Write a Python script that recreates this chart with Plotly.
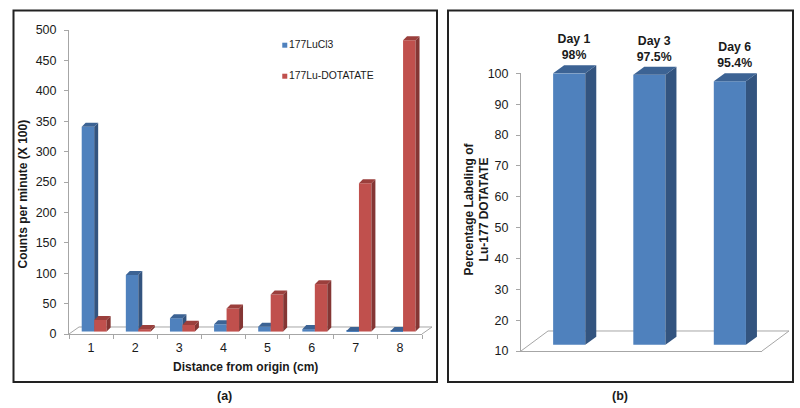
import plotly.graph_objects as go

W, H = 800, 408
# Panel (a)
distance = ["1", "2", "3", "4", "5", "6", "7", "8"]
lucl3 = [341, 97, 26, 16, 12, 8, 5, 5]
dotatate = [23, 8, 15, 42, 65, 82, 248, 483]
series_names = ["177LuCl3", "177Lu-DOTATATE"]
ticks_a = [0, 50, 100, 150, 200, 250, 300, 350, 400, 450, 500]
# Panel (b)
days = ["Day 1", "Day 3", "Day 6"]
day_labels = ["98%", "97.5%", "95.4%"]
day_heights = [100, 99.5, 97.4]
ticks_b = [10, 20, 30, 40, 50, 60, 70, 80, 90, 100]

BLUE, BLUE_S, BLUE_T = "#4f81bd", "#33547f", "#3c6394"
RED, RED_S, RED_T = "#c0504d", "#843634", "#9b3f3c"
GREY = "#a6a6a6"
TXT = "#1a1a1a"
FONT = "Liberation Sans"


def dom_x(a, b):
    return [a / W, b / W]


def dom_y(top, bottom):
    return [1 - bottom / H, 1 - top / H]


def faces(x0s, width, base, tops, dx, dy):
    sx, sy, tx, ty = [], [], [], []
    for x0, t in zip(x0s, tops):
        x1 = x0 + width
        sx += [x1, x1 + dx, x1 + dx, x1, x1, None]
        sy += [base, base + dy, t + dy, t, base, None]
        tx += [x0, x0 + dx, x1 + dx, x1, x0, None]
        ty += [t, t + dy, t + dy, t, t, None]
    return sx, sy, tx, ty


def poly(x, y, color, xa, ya):
    return go.Scatter(x=x, y=y, mode="lines", fill="toself", fillcolor=color,
                      line=dict(width=0), hoverinfo="skip", showlegend=False,
                      xaxis=xa, yaxis=ya)


fig = go.Figure()

# --- panel (a)
BASE_A, WID_A, DX_A, DY_A = 4, 0.283, 0.09, 6.6
n = len(distance)
blue_x = [i + 0.288 for i in range(n)]
red_x = [i + 0.571 for i in range(n)]
fig.add_trace(go.Bar(x=blue_x, y=[v - BASE_A for v in lucl3], base=BASE_A, width=WID_A, offset=0,
                     marker=dict(color=BLUE, line=dict(width=0)), name=series_names[0],
                     showlegend=False, xaxis="x", yaxis="y"))
sx, sy, tx, ty = faces(blue_x, WID_A, BASE_A, lucl3, DX_A, DY_A)
fig.add_trace(poly(sx, sy, BLUE_S, "x", "y"))
fig.add_trace(poly(tx, ty, BLUE_T, "x", "y"))
fig.add_trace(go.Bar(x=red_x, y=[v - BASE_A for v in dotatate], base=BASE_A, width=WID_A, offset=0,
                     marker=dict(color=RED, line=dict(width=0)), name=series_names[1],
                     showlegend=False, xaxis="x3", yaxis="y3"))
sx, sy, tx, ty = faces(red_x, WID_A, BASE_A, dotatate, DX_A, DY_A)
fig.add_trace(poly(sx, sy, RED_S, "x3", "y3"))
fig.add_trace(poly(tx, ty, RED_T, "x3", "y3"))
fig.add_trace(go.Scatter(x=[4.89, 4.89], y=[475, 424], mode="markers+text", text=series_names,
                         textposition="middle right", hoverinfo="skip", showlegend=False,
                         marker=dict(symbol="square", size=5, color=[BLUE, RED]),
                         textfont=dict(family=FONT, size=10.4, color=TXT),
                         xaxis="x3", yaxis="y3"))

# --- panel (b)
BASE_B, WID_B, DX_B, DY_B = 12, 0.4, 0.137, 2.6
xb = [0.4, 1.398, 2.4]
fig.add_trace(go.Bar(x=xb, y=[v - BASE_B for v in day_heights], base=BASE_B, width=WID_B, offset=0,
                     marker=dict(color=BLUE, line=dict(width=0)), name="Labeling",
                     showlegend=False, xaxis="x2", yaxis="y2"))
sx, sy, tx, ty = faces(xb, WID_B, BASE_B, day_heights, DX_B, DY_B)
fig.add_trace(poly(sx, sy, BLUE_S, "x4", "y4"))
fig.add_trace(poly(tx, ty, BLUE_T, "x4", "y4"))
fig.add_trace(go.Scatter(x=[x + 0.26 for x in xb], y=[v + 3.6 for v in day_heights], mode="text",
                         text=[f"<b>{d}<br>{p}</b>" for d, p in zip(days, day_labels)],
                         textposition="top center", hoverinfo="skip", showlegend=False,
                         textfont=dict(family=FONT, size=12.3, color=TXT),
                         xaxis="x4", yaxis="y4"))

axis_font = dict(family=FONT, size=12.5, color=TXT)


def floor_path(x0, y0, x1, dx, dy):
    pts = [(x0, y0), (x0 + dx, y0 - dy), (x1 + dx, y0 - dy), (x1, y0)]
    path = "M" + " L".join(f"{x / W:.5f},{1 - y / H:.5f}" for x, y in pts)
    return dict(type="path", xref="paper", yref="paper", path=path,
                line=dict(color=GREY, width=1), layer="below")


fig.update_layout(
    width=W, height=H, margin=dict(l=0, r=0, t=0, b=0, pad=0, autoexpand=False),
    paper_bgcolor="white", plot_bgcolor="rgba(0,0,0,0)", barmode="overlay", showlegend=False,
    font=dict(family=FONT),
    xaxis=dict(domain=dom_x(69, 422), range=[0, n], tickmode="array",
               tickvals=[i + 0.5 for i in range(n)], ticktext=distance, ticks="", tickfont=axis_font,
               showgrid=False, zeroline=False, showline=True, linecolor=GREY, linewidth=1,
               minor=dict(ticks="outside", tick0=0, dtick=1, ticklen=4, tickcolor=GREY, showgrid=False),
               ticklabelstandoff=2, anchor="y"),
    yaxis=dict(domain=dom_y(30, 334), range=[0, 500], tickmode="array", tickvals=ticks_a,
               tickfont=axis_font, ticks="outside", ticklen=4, tickcolor=GREY, showgrid=False,
               zeroline=False, showline=True, linecolor=GREY, linewidth=1, ticklabelstandoff=5, anchor="x"),
    xaxis3=dict(domain=dom_x(69, 422), range=[0, n], overlaying="x", visible=False, anchor="y3"),
    yaxis3=dict(domain=dom_y(30, 334), range=[0, 500], overlaying="y", visible=False, anchor="x3"),
    xaxis2=dict(domain=dom_x(521, 762), range=[0, 3], showticklabels=False, ticks="", showgrid=False,
                zeroline=False, showline=True, linecolor=GREY, linewidth=1, anchor="y2"),
    yaxis2=dict(domain=dom_y(73.3, 351), range=[10, 100], tickmode="array", tickvals=ticks_b,
                tickfont=axis_font, ticks="outside", ticklen=4, tickcolor=GREY, showgrid=False,
                zeroline=False, showline=True, linecolor=GREY, linewidth=1, ticklabelstandoff=5, anchor="x2"),
    # helper axes on the same scale as x2/y2, with room above and to the right for the 3D faces and labels
    xaxis4=dict(domain=dom_x(521, 790), range=[0, 3 * (790 - 521) / (762 - 521)],
                visible=False, anchor="y4"),
    yaxis4=dict(domain=dom_y(15, 351), range=[10, 10 + 90 * (351 - 15) / (351 - 73.3)],
                visible=False, anchor="x4"),
    shapes=[
        dict(type="rect", xref="paper", yref="paper", x0=13.5 / W, x1=437 / W, y0=1 - 382 / H, y1=1 - 10.5 / H,
             line=dict(color="#222222", width=2), layer="below"),
        dict(type="rect", xref="paper", yref="paper", x0=448 / W, x1=793 / W, y0=1 - 382 / H, y1=1 - 10.5 / H,
             line=dict(color="#222222", width=2), layer="below"),
        floor_path(69, 334, 422, 10, 7),
        floor_path(521, 351, 762, 27, 20),
    ],
)


def note(text, x, y, size=12, angle=0):
    fig.add_annotation(text=f"<b>{text}</b>", xref="paper", yref="paper", x=x / W, y=1 - y / H,
                       xanchor="center", yanchor="middle", showarrow=False, textangle=angle,
                       font=dict(family=FONT, size=size, color=TXT))


note("Distance from origin (cm)", 245, 367)
note("Counts per minute (X 100)", 22.5, 194, angle=-90)
note("Percentage Labeling of<br>Lu-177 DOTATATE", 476.5, 209, angle=-90)
note("(a)", 224, 396, size=12.5)
note("(b)", 620, 396, size=12.5)

fig.write_html("out.html", config=dict(displayModeBar=False),
               post_script="document.body.style.margin='0';document.body.style.overflow='hidden';")
